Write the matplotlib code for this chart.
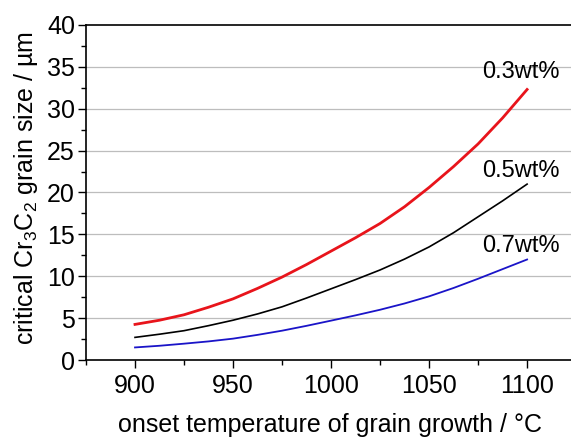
import matplotlib
matplotlib.use('Agg')
import matplotlib.pyplot as plt
from matplotlib.ticker import MultipleLocator

plt.rcParams['font.family'] = ['Liberation Sans', 'DejaVu Sans']
plt.rcParams['mathtext.fontset'] = 'custom'
plt.rcParams['mathtext.rm'] = 'Liberation Sans'

# onset temperature (°C) and critical grain size (µm)
temperature = [900, 912.5, 925, 937.5, 950, 962.5, 975, 987.5, 1000,
               1012.5, 1025, 1037.5, 1050, 1062.5, 1075, 1087.5, 1100]
size_03 = [4.25, 4.75, 5.4, 6.3, 7.3, 8.55, 9.9, 11.4, 13.0,
           14.6, 16.3, 18.3, 20.6, 23.1, 25.8, 28.9, 32.3]
size_05 = [2.7, 3.08, 3.5, 4.1, 4.75, 5.5, 6.35, 7.4, 8.5,
           9.6, 10.75, 12.05, 13.5, 15.2, 17.1, 19.0, 21.0]
size_07 = [1.5, 1.7, 1.95, 2.22, 2.55, 3.0, 3.5, 4.08, 4.7,
           5.33, 6.0, 6.75, 7.6, 8.6, 9.7, 10.85, 12.0]
labels = ['0.3wt%', '0.5wt%', '0.7wt%']
label_y = [34.4, 22.6, 13.6]

fig = plt.figure(figsize=(5.71, 4.37), dpi=100)
ax = fig.add_axes([0.1506, 0.1762, 0.8494, 0.7666])

for y in range(5, 40, 5):
    ax.axhline(y, color='#bdbdbd', lw=0.9, zorder=0)

ax.plot(temperature, size_03, color='#e8141b', lw=2.0)
ax.plot(temperature, size_05, color='black', lw=1.2)
ax.plot(temperature, size_07, color='#1a14c8', lw=1.3)

for text, y in zip(labels, label_y):
    ax.text(1116.5, y, text, ha='right', va='center', fontsize=17)

ax.set_xlim(875, 1122.4)
ax.set_ylim(0, 40)
ax.xaxis.set_major_locator(MultipleLocator(50))
ax.xaxis.set_minor_locator(MultipleLocator(25))
ax.yaxis.set_major_locator(MultipleLocator(5))
ax.yaxis.set_minor_locator(MultipleLocator(2.5))
ax.tick_params(which='major', direction='out', length=6, width=1, labelsize=18, pad=4)
ax.tick_params(which='minor', direction='out', length=3.5, width=1)
ax.tick_params(axis='y', pad=2)
ax.spines['right'].set_visible(False)
for s in ['left', 'bottom', 'top']:
    ax.spines[s].set_linewidth(1.2)

ax.set_xlabel('onset temperature of grain growth / °C', fontsize=18)
ax.set_ylabel(r'critical Cr$_3$C$_2$ grain size / µm', fontsize=18)
ax.xaxis.set_label_coords(0.504, -0.158)
ax.yaxis.set_label_coords(-0.095, 0.513)

fig.savefig('out.png', dpi=100)
